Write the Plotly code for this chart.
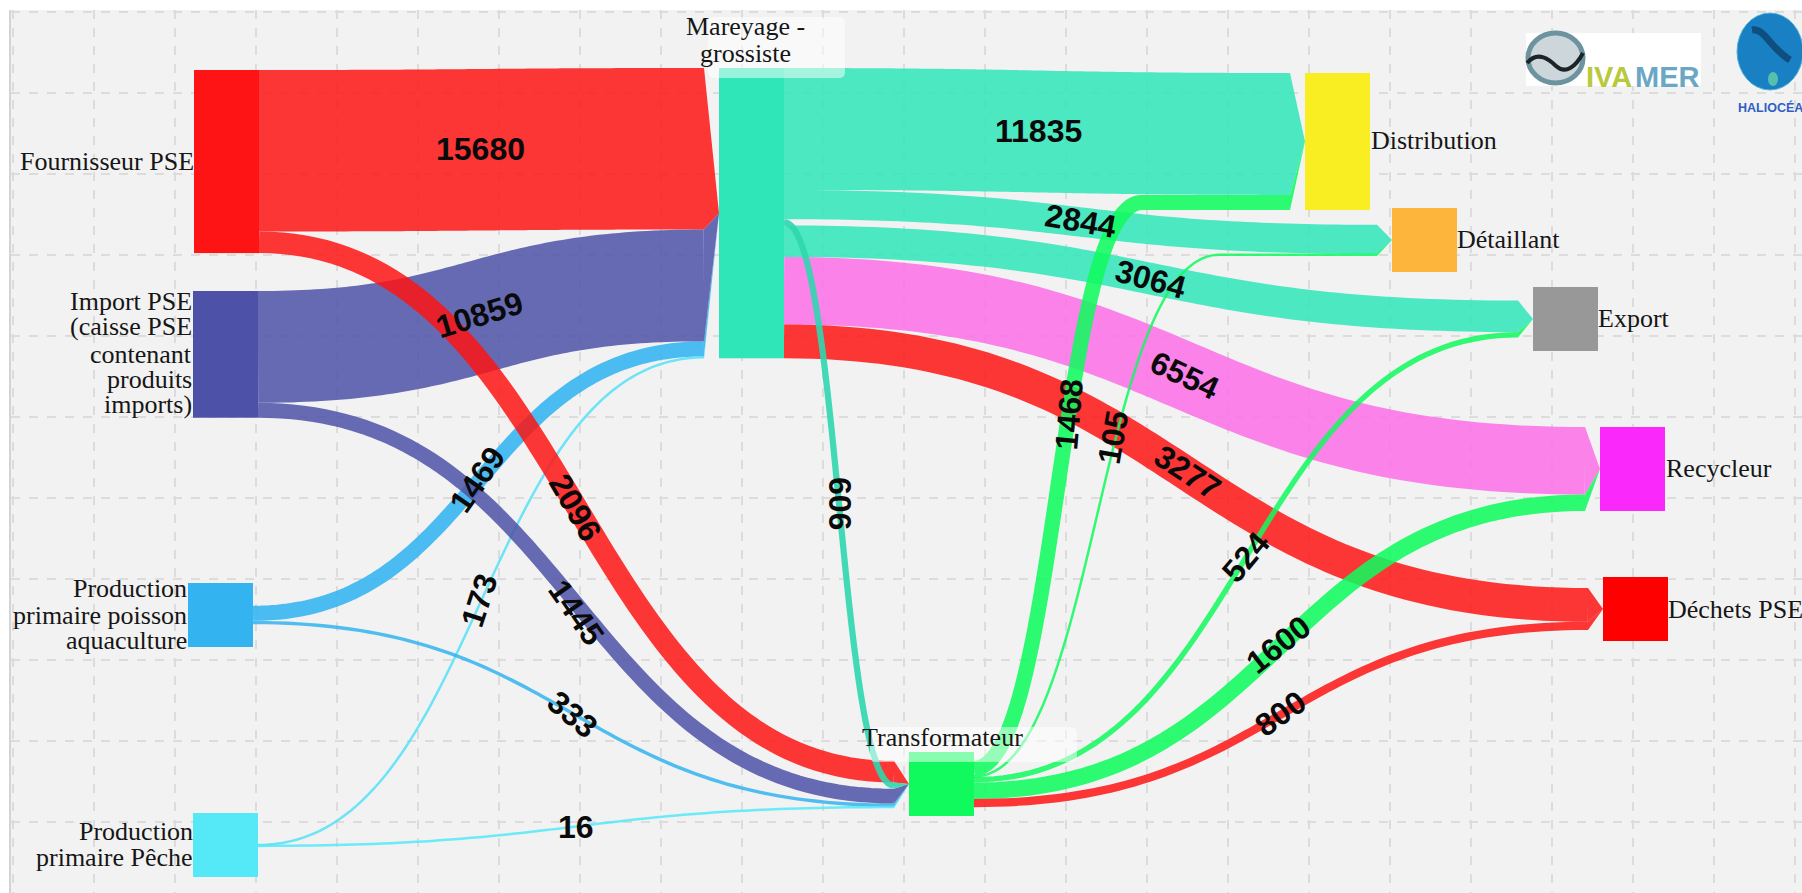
import plotly.graph_objects as go

W, H = 1802, 893
KY = 0.0103           # px per unit
MIN_PX = 64           # smallest drawn node height
MIN_STROKE = 2.5      # thinnest drawn band
THICK = 65
ARROW = 15

# ---------- data ----------
node_names = ["Fournisseur PSE", "Import PSE", "Production poisson", "Production Peche",
              "Mareyage", "Transformateur", "Distribution", "Detaillant", "Export",
              "Recycleur", "Dechets PSE"]
node_colors = ["#fe1414", "#4d52a8", "#33b4f0", "#55e9f8", "#2fe6b8", "#10fa5e",
               "#f8ee22", "#fdb53b", "#989898", "#fb28fb", "#fe0000"]
node_left = [194, 193, 188, 193, 719, 909, 1305, 1392, 1533, 1600, 1603]
node_top = [70, 291, 583, 813, 68, 752, 73, 208, 287, 427, 577]

link_src = ["Production poisson", "Production Peche", "Production poisson", "Production Peche",
            "Fournisseur PSE", "Import PSE", "Fournisseur PSE", "Import PSE",
            "Mareyage", "Mareyage", "Mareyage", "Mareyage", "Mareyage", "Mareyage",
            "Transformateur", "Transformateur", "Transformateur", "Transformateur", "Transformateur"]
link_tgt = ["Mareyage", "Mareyage", "Transformateur", "Transformateur",
            "Mareyage", "Mareyage", "Transformateur", "Transformateur",
            "Distribution", "Detaillant", "Export", "Recycleur", "Dechets PSE", "Transformateur",
            "Distribution", "Detaillant", "Export", "Recycleur", "Dechets PSE"]
link_val = [1469, 173, 333, 16, 15680, 10859, 2096, 1445, 11835, 2844, 3064, 6554, 3277, 606,
            1468, 105, 524, 1600, 800]
link_col = ["rgba(51,180,240,0.88)", "rgba(85,225,248,0.85)", "rgba(51,180,240,0.85)", "rgba(85,233,248,0.85)",
            "rgba(254,20,20,0.85)", "rgba(77,82,168,0.85)", "rgba(254,20,20,0.85)", "rgba(77,82,168,0.85)",
            "rgba(47,230,184,0.85)", "rgba(47,230,184,0.85)", "rgba(47,230,184,0.85)",
            "rgba(251,110,232,0.85)", "rgba(254,20,20,0.85)", "rgba(47,215,175,0.9)",
            "rgba(16,250,94,0.88)", "rgba(16,250,94,0.85)", "rgba(16,250,94,0.85)",
            "rgba(16,250,94,0.88)", "rgba(254,20,20,0.85)"]
# x where a band finishes its curve and runs straight on (only two bands do this)
curve_end = {("Transformateur", "Distribution"): 1142, ("Transformateur", "Detaillant"): 1220}
# stacking order of bands where it is not simply top-to-bottom
out_order = {"Mareyage": ["Distribution", "Detaillant", "Transformateur", "Export", "Recycleur", "Dechets PSE"]}
in_order = {"Transformateur": ["Fournisseur PSE", "Mareyage", "Import PSE", "Production poisson", "Production Peche"]}

value_labels = ["15680", "10859", "11835", "2844", "3064", "6554", "3277", "1468", "105", "524",
                "1600", "800", "2096", "1445", "1469", "173", "333", "16", "606"]
value_x = [481, 479, 1038, 1080, 1150, 1184, 1187, 1069, 1113, 1246, 1278, 1280, 575, 576, 477, 479, 572, 576, 840]
value_y = [149, 315, 131, 221, 279, 375, 472, 415, 438, 557, 645, 714, 507, 612, 480, 601, 714, 827, 503]
value_rot = [0, -17, 0, 10, 15, 25, 33, -85, -80, -50, -38, -35, 60, 55, -55, -72, 40, 0, 90]

label_lines = ["Fournisseur PSE", "Import PSE", "(caisse PSE", "contenant", "produits", "imports)",
               "Production", "primaire poisson", "aquaculture", "Production", "primaire Pêche",
               "Mareyage -", "grossiste", "Transformateur", "Distribution", "Détaillant", "Export",
               "Recycleur", "Déchets PSE"]
label_x = [194, 192, 192, 192, 192, 192, 187, 187, 187, 193, 193, 745, 745, 942, 1371, 1457, 1598, 1666, 1668]
label_y = [161, 301, 326, 354, 380, 404, 588, 615, 640, 831, 857, 27, 53, 737, 140, 239, 318, 468, 609]
label_anchor = ["right"] * 11 + ["center"] * 3 + ["left"] * 5

# ---------- sankey: hidden balancing links give small nodes their minimum height ----------
MIN_VAL = MIN_PX / KY
CLEAR = "rgba(0,0,0,0)"
idx = {n: i for i, n in enumerate(node_names)}
extra = ["src_top", "src_bot", "sink_top", "sink_bot", "tune_a", "tune_b"]
for e in extra:
    idx[e] = len(idx)

src = [idx[s] for s in link_src]
tgt = [idx[t] for t in link_tgt]
val = list(link_val)


def add(s, t, v):
    src.append(idx[s]); tgt.append(idx[t]); val.append(v)


total_in = {n: sum(v for v, t in zip(link_val, link_tgt) if t == n) for n in node_names}
total_out = {n: sum(v for v, s in zip(link_val, link_src) if s == n) for n in node_names}
for n in node_names:
    if 0 < total_in[n] < MIN_VAL:
        add("src_top", n, (MIN_VAL - total_in[n]) / 2)
        add("src_bot", n, (MIN_VAL - total_in[n]) / 2)
    if 0 < total_out[n] < MIN_VAL:
        add(n, "sink_top", (MIN_VAL - total_out[n]) / 2)
        add(n, "sink_bot", (MIN_VAL - total_out[n]) / 2)


def node_value(i):
    return max(sum(v for v, s in zip(val, src) if s == i), sum(v for v, t in zip(val, tgt) if t == i))


first_col = ["Fournisseur PSE", "Import PSE", "Production poisson", "Production Peche", "src_top", "src_bot"]
last_col = ["Distribution", "Detaillant", "Export", "Recycleur", "Dechets PSE", "sink_top", "sink_bot"]
col_sum = max(sum(node_value(idx[n]) for n in first_col), sum(node_value(idx[n]) for n in last_col))
add("tune_a", "tune_b", H / KY - col_sum)

xs, ys = [], []
for i, n in enumerate(node_names):
    xs.append((node_left[i] + THICK / 2) / W)
    ys.append((node_top[i] + node_value(i) * KY / 2) / H)
helper_pos = {"src_top": (0.02, 0.001), "src_bot": (0.02, 0.999), "sink_top": (0.98, 0.001), "sink_bot": (0.98, 0.999),
              "tune_a": (0.02, 0.5), "tune_b": (0.98, 0.5)}
for e in extra:
    xs.append(helper_pos[e][0]); ys.append(helper_pos[e][1])

main = go.Sankey(
    arrangement="fixed", hoverinfo="none",
    node=dict(pad=0, thickness=THICK, label=[""] * len(idx), x=xs, y=ys,
              color=node_colors + [CLEAR] * len(extra), line=dict(width=0), hoverinfo="none"),
    link=dict(source=src, target=tgt, value=val, color=[CLEAR] * len(val), hoverinfo="none"),
)
fig = go.Figure([main])

# ---------- bands: constant-width strokes along horizontal-tangent beziers ----------
pos = dict(zip(node_names, range(len(node_names))))


def stack(groups, key_order, totals, other):
    """y of each band's centre at one end of the links."""
    result = {}
    for n in node_names:
        members = [k for k in range(len(link_val)) if groups[k] == n]
        if not members:
            continue
        if n in key_order:
            members.sort(key=lambda k: key_order[n].index(other[k]))
        else:
            members.sort(key=lambda k: node_top[pos[other[k]]])
        y = node_top[pos[n]]
        if totals[n] < MIN_VAL:
            y += (MIN_VAL - totals[n]) / 2 * KY
        for k in members:
            w = link_val[k] * KY
            result[k] = y + w / 2
            y += w
    return result


y_start = stack(link_src, out_order, total_out, link_tgt)
y_end = stack(link_tgt, in_order, total_in, link_src)

for k, v in enumerate(link_val):
    tgt_i = pos[link_tgt[k]]
    x0 = node_left[pos[link_src[k]]] + THICK
    x1 = node_left[tgt_i] - ARROW
    xe = curve_end.get((link_src[k], link_tgt[k]), x1)
    y0, y1 = y_start[k], y_end[k]
    xm = (x0 + xe) / 2
    px, py = [], []
    for j in range(81):
        t = j / 80
        a, b, c, d = (1 - t) ** 3, 3 * (1 - t) ** 2 * t, 3 * (1 - t) * t ** 2, t ** 3
        px.append(a * x0 + b * xm + c * xm + d * xe)
        py.append(a * y0 + b * y0 + c * y1 + d * y1)
    if xe != x1:
        px.append(x1); py.append(y1)
    w = max(v * KY, MIN_STROKE)
    fig.add_trace(go.Scatter(x=px, y=py, mode="lines", line=dict(color=link_col[k], width=w, simplify=False),
                             hoverinfo="skip", showlegend=False))
    # every band entering a node tapers to one point at the middle of that node
    tip_y = node_top[tgt_i] + node_value(tgt_i) * KY / 2
    fig.add_trace(go.Scatter(x=[x1, x1 + ARROW, x1, x1], y=[y1 - w / 2, tip_y, y1 + w / 2, y1 - w / 2],
                             mode="lines", line=dict(width=0), fill="toself", fillcolor=link_col[k],
                             hoverinfo="skip", showlegend=False))


def fx(p):
    return p / W


def fy(p):
    return 1 - p / H


def rounded(x0, x1, y0, y1, r):
    return (f"M {fx(x0)} {fy(y0)} L {fx(x1 - r)} {fy(y0)} Q {fx(x1)} {fy(y0)} {fx(x1)} {fy(y0 + r)} "
            f"L {fx(x1)} {fy(y1 - r)} Q {fx(x1)} {fy(y1)} {fx(x1 - r)} {fy(y1)} "
            f"L {fx(x0 + r)} {fy(y1)} Q {fx(x0)} {fy(y1)} {fx(x0)} {fy(y1 - r)} "
            f"L {fx(x0)} {fy(y0 + r)} Q {fx(x0)} {fy(y0)} {fx(x0 + r)} {fy(y0)} Z")


def pshape(path, **kw):
    return dict(type="path", xref="paper", yref="paper", path=path, layer="above", **kw)


def oval(x0, x1, y0, y1, fill, **kw):
    return dict(type="circle", xref="paper", yref="paper", x0=fx(x0), x1=fx(x1), y0=fy(y1), y1=fy(y0),
                fillcolor=fill, layer="above", **kw)


shapes = []
# translucent label boxes
for x0, x1, y0, y1 in [(708, 845, 17, 78), (870, 1077, 727, 762)]:
    shapes.append(pshape(rounded(x0, x1, y0, y1, 6), fillcolor="rgba(255,255,255,0.5)", line=dict(width=0)))
# logos
shapes += [
    dict(type="rect", xref="paper", yref="paper", x0=fx(1526), x1=fx(1701), y0=fy(86), y1=fy(33),
         fillcolor="white", line=dict(width=0), layer="above"),
    oval(1528, 1583, 33, 83, "#cdd7db", line=dict(color="#6d939f", width=5)),
    pshape(f"M {fx(1527)} {fy(63)} C {fx(1538)} {fy(50)}, {fx(1550)} {fy(60)}, {fx(1556)} {fy(66)} "
           f"C {fx(1566)} {fy(75)}, {fx(1576)} {fy(66)}, {fx(1583)} {fy(53)}",
           line=dict(color="#1c2428", width=4)),
    oval(1737, 1803, 13, 90, "#1a80c4", line=dict(color="#4fb4d8", width=1)),
    pshape(f"M {fx(1752)} {fy(30)} C {fx(1765)} {fy(28)}, {fx(1770)} {fy(48)}, {fx(1790)} {fy(60)}",
           line=dict(color="#0f4f7f", width=7)),
    oval(1768, 1778, 72, 86, "#58bfae", line=dict(width=0)),
]

ann = []
for t, x, y, r in zip(value_labels, value_x, value_y, value_rot):
    ann.append(dict(text=t, xref="paper", yref="paper", x=fx(x), y=fy(y), showarrow=False, textangle=r,
                    xanchor="center", yanchor="middle", borderpad=0,
                    font=dict(family="Liberation Sans", size=32, color="#0a0a0a", weight="bold")))
for t, x, y, a in zip(label_lines, label_x, label_y, label_anchor):
    ann.append(dict(text=t, xref="paper", yref="paper", x=fx(x), y=fy(y), showarrow=False,
                    xanchor=a, yanchor="middle", borderpad=0, borderwidth=0,
                    font=dict(family="Liberation Serif", size=26, color="#161616")))
ann += [
    dict(text="IVA", xref="paper", yref="paper", x=fx(1585), y=fy(60), showarrow=False, xanchor="left", borderpad=0,
         font=dict(family="Liberation Sans", size=29, color="#b9c83c", weight="bold")),
    dict(text="MER", xref="paper", yref="paper", x=fx(1634), y=fy(60), showarrow=False, xanchor="left", borderpad=0,
         font=dict(family="Liberation Sans", size=29, color="#6aa7c4", weight="bold")),
    dict(text="HALIOCÉA", xref="paper", yref="paper", x=fx(1737), y=fy(99), showarrow=False, xanchor="left", borderpad=0,
         font=dict(family="Liberation Sans", size=12.5, color="#2f5fc4", weight="bold")),
]

axis_common = dict(showticklabels=False, ticks="", zeroline=False, showgrid=True, gridcolor="#dcdcdc",
                   griddash="dash", gridwidth=1.5, dtick=81, fixedrange=True)
fig.update_layout(
    width=W, height=H, margin=dict(l=0, r=0, t=0, b=0), paper_bgcolor="white", plot_bgcolor="#f2f2f2",
    xaxis=dict(range=[11, W], domain=[11 / W, 1], tick0=13, showline=True, linecolor="#d4d4d4", linewidth=2,
               mirror=False, **axis_common),
    yaxis=dict(range=[H, 10], domain=[0, 1 - 10 / H], tick0=12, showline=True, linecolor="#d4d4d4", linewidth=2,
               **axis_common),
    shapes=shapes, annotations=ann, showlegend=False,
)
fig.write_html("out.html", config={"displayModeBar": False}, post_script="document.body.style.margin='0';")
